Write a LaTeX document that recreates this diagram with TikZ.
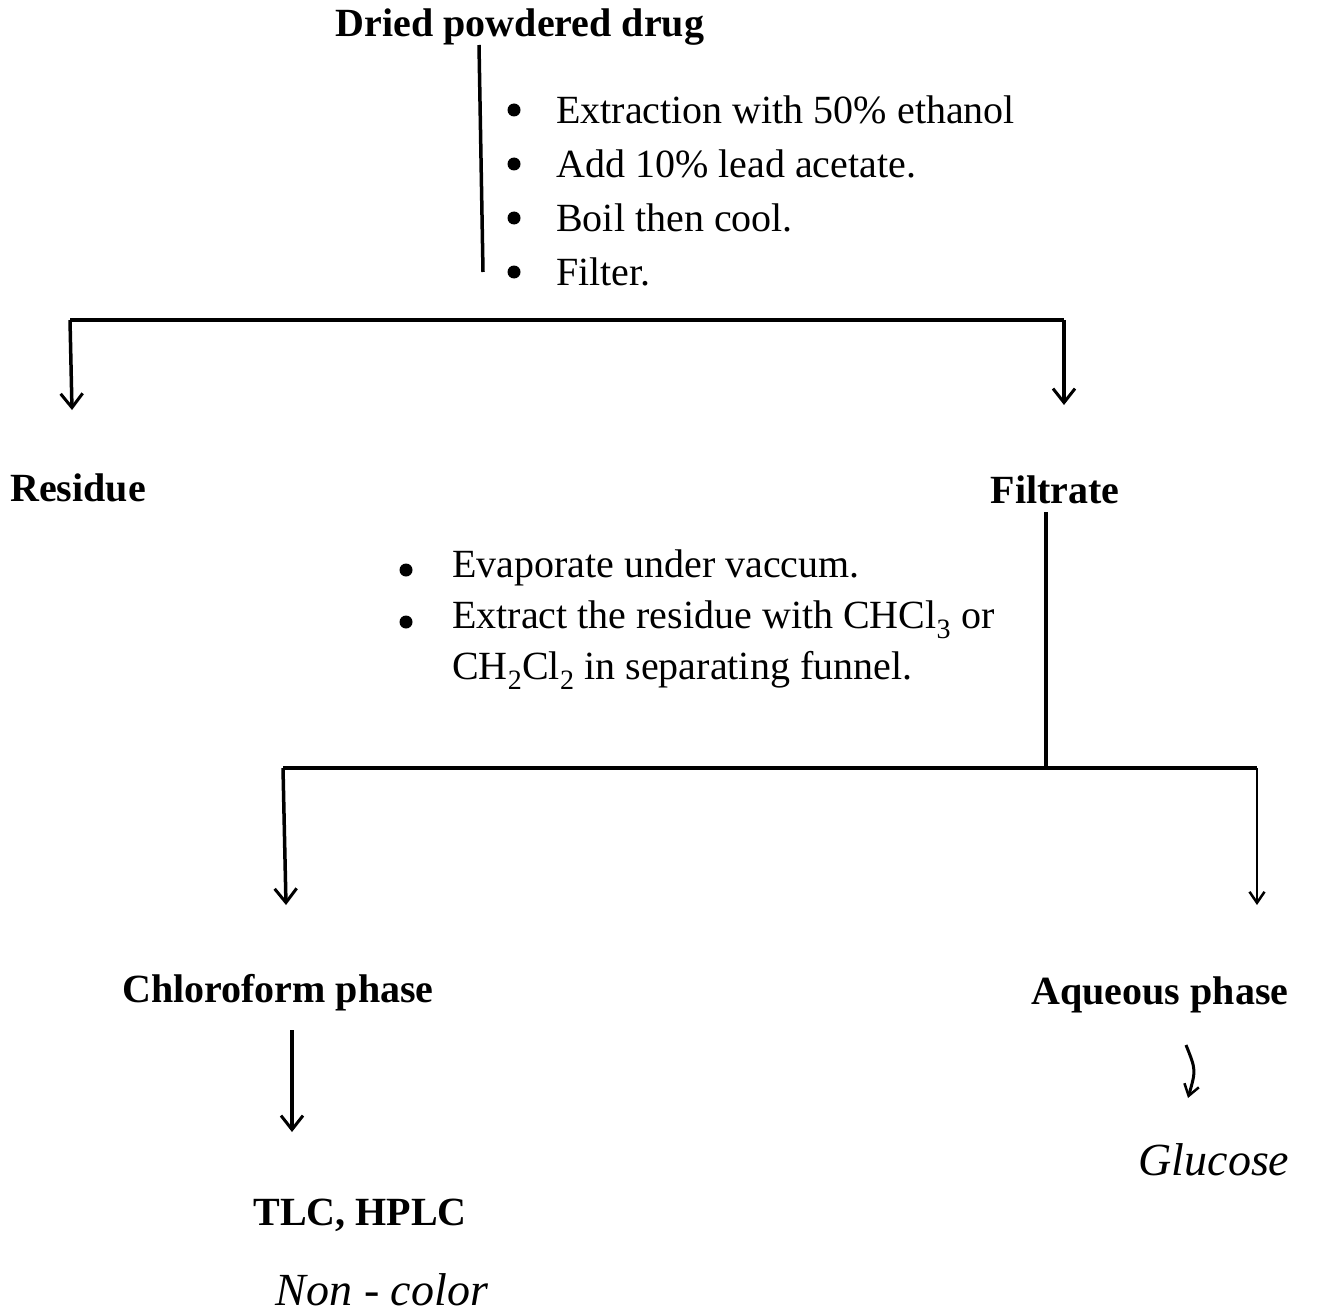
\documentclass[tikz,border=0pt]{standalone}
\usepackage{fontspec}
\setmainfont{Liberation Serif}
\usetikzlibrary{arrows.meta}
\begin{document}
\begin{tikzpicture}[x=1pt,y=-1pt,
  title/.style={font=\fontsize{40}{46}\selectfont\bfseries, inner sep=0pt},
  body/.style={font=\fontsize{40}{46}\selectfont, inner sep=0pt, anchor=west},
  dot/.style={circle, fill=black, inner sep=0pt, minimum size=13pt},
  hand/.style={font=\fontsize{46}{50}\selectfont\itshape, inner sep=0pt},
  line/.style={line width=3.5pt},
  arr/.style={line width=3.5pt, -{Straight Barb[length=14pt,width=22pt,line width=3pt]}},
  thin arr/.style={line width=2.5pt, -{Straight Barb[length=11pt,width=15pt,line width=2.5pt]}}]
\useasboundingbox (0,0) rectangle (1322,1316);

% top
\node[title] (drug) at (520,27) {Dried powdered drug};
\coordinate (s1top) at (479,45);
\coordinate (s1bot) at (483,272);
\draw[line] (s1top) -- (s1bot);
\foreach \y/\t [count=\i] in {110/Extraction with 50\% ethanol, 164/Add 10\% lead acetate., 218/Boil then cool., 272/Filter.}{
  \node[dot] (b1\i) at (514,\y) {};
  \node[body] (t1\i) at (556,\y) {\t};
}

% first split
\coordinate (h1l) at (70,320);
\coordinate (h1r) at (1064,320);
\node[title, anchor=west] (res) at (10,488) {Residue};
\node[title] (fil) at (1055,490) {Filtrate};
\draw[line] (h1l) -- (h1r);
\draw[arr] (h1l) -- (72,410);
\draw[arr] (h1r) -- (1064,405);

% second step
\coordinate (f2top) at (1046,512);
\coordinate (h2m) at (1046,768);
\draw[line] (f2top) -- (h2m);
\node[dot] (b21) at (406,570) {};
\node[body] (t21) at (452,568) {Evaporate under vaccum.};
\node[dot] (b22) at (406,622) {};
\node[body] (t22) at (452,620) {Extract the residue with CHCl\textsubscript{3} or};
\node[body] (t23) at (452,670) {CH\textsubscript{2}Cl\textsubscript{2} in separating funnel.};

% second split
\coordinate (h2l) at (283,768);
\coordinate (h2r) at (1257,768);
\draw[line] (h2l) -- (h2r);
\draw[arr] (h2l) -- (286,905);
\draw[thin arr] (h2r) -- (1257,905);

\node[title] (chl) at (278,993) {Chloroform phase};
\node[title] (aq) at (1160,995) {Aqueous phase};

\node[title] (tlc) at (360,1215) {TLC, HPLC};
\draw[arr] (292,1030) -- (292,1132);

\node[hand] (nc) at (382,1290) {Non - color};
\node[hand] (glu) at (1214,1160) {Glucose};
\draw[thin arr, line width=3pt] (1186,1045) .. controls (1196,1070) .. (1188,1098);
\end{tikzpicture}
\end{document}
